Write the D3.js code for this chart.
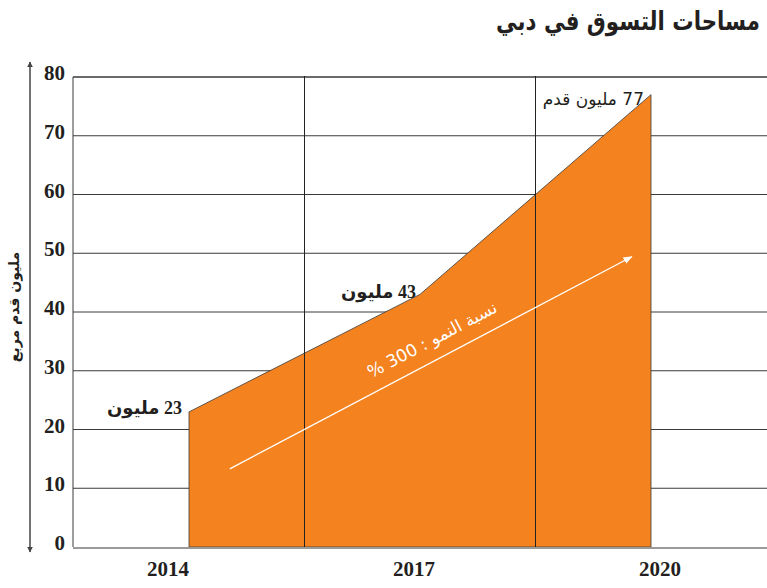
<!DOCTYPE html>
<html>
<head>
<meta charset="utf-8">
<script src="https://cdn.jsdelivr.net/npm/d3@7"></script>
<style>
  html, body { margin: 0; padding: 0; background: #ffffff; }
  svg { display: block; }
</style>
</head>
<body>
<div id="chart"></div>
<script>
// data
const years = [2014, 2017, 2020];
const areaValues = [23, 43, 77];
const yearLabels = ["2014", "2017", "2020"];
const yTicks = [0, 10, 20, 30, 40, 50, 60, 70, 80];
const dividerYears = [2015.5, 2018.5];
const pointLabels = ["23 مليون", "43 مليون", "77 مليون قدم"];
const growthArrow = [[2014.53, 13.3], [2019.75, 49.4]];
const growthText = "نسبة النمو : 300 %";
const chartTitle = "مساحات التسوق في دبي";
const yTitle = "مليون قدم مربع";

const width = 767, height = 588;
const plotLeft = 73, plotRight = 767, plotTop = 77, plotBottom = 547;
const orange = "#f4821f";
const gridColor = "#3a3a3a";
const serif = "'Liberation Serif', 'DejaVu Serif', serif";
const arabic = "'DejaVu Sans', sans-serif";

const svg = d3.select("#chart").append("svg")
  .attr("width", width).attr("height", height);

const x = d3.scaleLinear().domain([2014, 2020]).range([189, 651]);
const xLab = d3.scalePoint().domain(yearLabels).range([168, 660]);
const y = d3.scaleLinear().domain([0, 80]).range([plotBottom, plotTop]);

// horizontal gridlines
svg.append("g").selectAll("line")
  .data(yTicks.filter(d => d > 0))
  .join("line")
  .attr("x1", plotLeft).attr("x2", plotRight)
  .attr("y1", d => y(d)).attr("y2", d => y(d))
  .attr("stroke", gridColor)
  .attr("stroke-width", d => d === 80 ? 1.6 : 1);

// left border
svg.append("line")
  .attr("x1", plotLeft).attr("x2", plotLeft)
  .attr("y1", y(80)).attr("y2", y(0))
  .attr("stroke", gridColor).attr("stroke-width", 1);

// area
const pts = years.map((yr, i) => ({ yr, v: areaValues[i] }));
const area = d3.area().x(d => x(d.yr)).y0(y(0)).y1(d => y(d.v));
svg.append("path")
  .datum(pts)
  .attr("d", area)
  .attr("fill", orange)
  .attr("stroke", "#3a3a3a")
  .attr("stroke-width", 0.8);

// vertical dividers (drawn over area)
svg.append("g").selectAll("line")
  .data(dividerYears)
  .join("line")
  .attr("x1", d => x(d)).attr("x2", d => x(d))
  .attr("y1", y(80) - 1).attr("y2", y(0))
  .attr("stroke", "#222").attr("stroke-width", 1);

// bottom axis line
svg.append("line")
  .attr("x1", plotLeft).attr("x2", plotRight)
  .attr("y1", y(0) + 1).attr("y2", y(0) + 1)
  .attr("stroke", "#9a9a9a").attr("stroke-width", 2);

// y tick labels
svg.append("g").selectAll("text")
  .data(yTicks)
  .join("text")
  .attr("x", 65)
  .attr("y", d => y(d) + 3)
  .attr("text-anchor", "end")
  .style("font-family", serif)
  .style("font-weight", "bold")
  .style("font-size", "21px")
  .style("fill", "#231f20")
  .text(d => d);

// x labels
svg.append("g").selectAll("text")
  .data(yearLabels)
  .join("text")
  .attr("x", d => xLab(d))
  .attr("y", 576)
  .attr("text-anchor", "middle")
  .style("font-family", serif)
  .style("font-weight", "bold")
  .style("font-size", "21px")
  .style("fill", "#231f20")
  .text(d => d);

// y arrow
const defs = svg.append("defs");
defs.append("marker")
  .attr("id", "ah").attr("viewBox", "0 0 10 10")
  .attr("refX", 9).attr("refY", 5)
  .attr("markerWidth", 4).attr("markerHeight", 4)
  .attr("orient", "auto-start-reverse")
  .append("path").attr("d", "M0,0 L10,5 L0,10 Z").attr("fill", "#444");
defs.append("marker")
  .attr("id", "wh").attr("viewBox", "0 0 10 10")
  .attr("refX", 9).attr("refY", 5)
  .attr("markerWidth", 7).attr("markerHeight", 7)
  .attr("orient", "auto")
  .append("path").attr("d", "M0,1 L10,5 L0,9 Z").attr("fill", "#fff");

svg.append("line")
  .attr("x1", 30).attr("x2", 30)
  .attr("y1", 62).attr("y2", 552)
  .attr("stroke", "#444").attr("stroke-width", 1.5)
  .attr("marker-start", "url(#ah)")
  .attr("marker-end", "url(#ah)");

svg.append("text")
  .attr("transform", `translate(19, ${y(40) - 5}) rotate(-90)`)
  .attr("text-anchor", "middle")
  .style("font-family", arabic)
  .style("font-weight", "bold")
  .style("font-size", "14px")
  .style("fill", "#231f20")
  .text(yTitle);

// title: slightly condensed to match the narrow heading face
svg.append("text")
  .attr("transform", "translate(760, 30) scale(0.82, 1)")
  .attr("text-anchor", "end")
  .style("font-family", arabic)
  .style("font-weight", "bold")
  .style("font-size", "26px")
  .style("fill", "#231f20")
  .text(chartTitle);

// point labels
const labelOffsets = [[-7, 2], [-4, 4], [-7, 10]];
svg.append("g").selectAll("text")
  .data(pts)
  .join("text")
  .attr("x", (d, i) => x(d.yr) + labelOffsets[i][0])
  .attr("y", (d, i) => y(d.v) + labelOffsets[i][1])
  .attr("direction", "rtl")
  .attr("text-anchor", "start")
  .style("font-family", (d, i) => i < 2 ? serif + ", " + arabic : arabic)
  .style("font-weight", (d, i) => i < 2 ? "bold" : "normal")
  .style("font-size", (d, i) => i < 2 ? "18px" : "17px")
  .style("fill", "#231f20")
  .text((d, i) => pointLabels[i]);

// growth arrow
const [a0, a1] = growthArrow;
const ax0 = x(a0[0]), ay0 = y(a0[1]), ax1 = x(a1[0]), ay1 = y(a1[1]);
svg.append("line")
  .attr("x1", ax0).attr("y1", ay0).attr("x2", ax1).attr("y2", ay1)
  .attr("stroke", "#fff").attr("stroke-width", 1.3)
  .attr("marker-end", "url(#wh)");

const ang = Math.atan2(ay1 - ay0, ax1 - ax0) * 180 / Math.PI;
svg.append("text")
  .attr("transform", `translate(${(ax0 + ax1) / 2 + 4}, ${(ay0 + ay1) / 2 - 18}) rotate(${ang})`)
  .attr("text-anchor", "middle")
  .attr("direction", "rtl")
  .style("font-family", arabic)
  .style("font-size", "17px")
  .style("fill", "#fff")
  .text(growthText);
</script>
</body>
</html>
